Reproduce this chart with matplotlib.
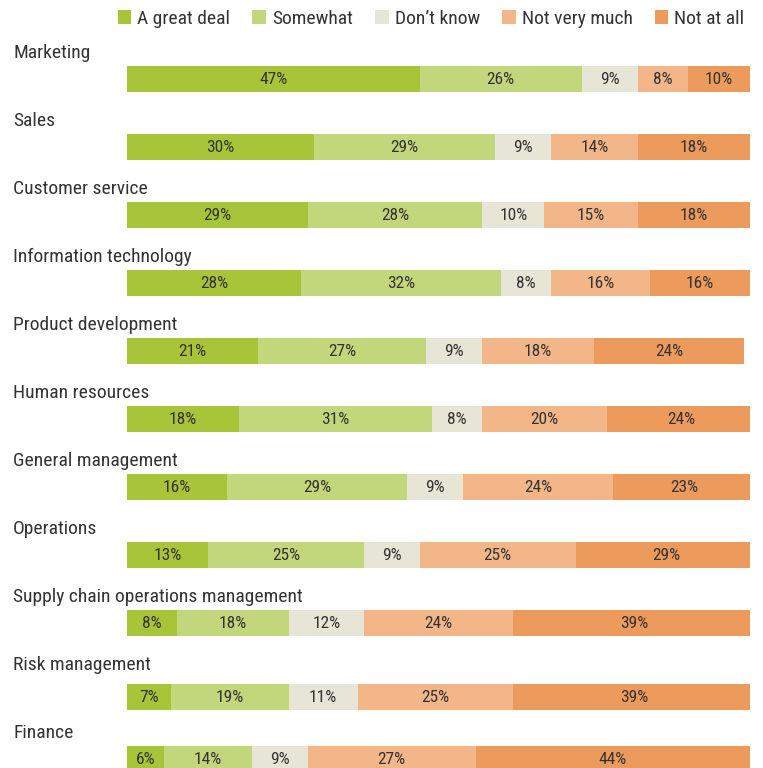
import matplotlib.pyplot as plt
from matplotlib.patches import Patch
from matplotlib.transforms import blended_transform_factory

plt.rcParams['font.family'] = ['Roboto Condensed', 'Archivo Narrow', 'PT Sans Narrow',
                               'Liberation Sans', 'DejaVu Sans']

# Survey responses per business function (percent of respondents)
functions = ['Marketing', 'Sales', 'Customer service', 'Information technology',
             'Product development', 'Human resources', 'General management',
             'Operations', 'Supply chain operations management', 'Risk management',
             'Finance']
responses = ['A great deal', 'Somewhat', 'Don\u2019t know', 'Not very much', 'Not at all']

great_deal = [47, 30, 29, 28, 21, 18, 16, 13, 8, 7, 6]
somewhat = [26, 29, 28, 32, 27, 31, 29, 25, 18, 19, 14]
dont_know = [9, 9, 10, 8, 9, 8, 9, 9, 12, 11, 9]
not_very_much = [8, 14, 15, 16, 18, 20, 24, 25, 24, 25, 27]
not_at_all = [10, 18, 18, 16, 24, 24, 23, 29, 39, 39, 44]

colors = ['#a8c53a', '#c2d67b', '#e7e5d6', '#f2b688', '#ec9b5d']
text_color = '#333333'

W, H = 763, 768
fig = plt.figure(figsize=(W / 100, H / 100), dpi=100)

# bars run from x=127px to x=750px; one row every 68px, first bar centred at 79px
row_px, first_px = 68, 79
ax = fig.add_axes([127 / W, 0, (750 - 127) / W, 1])
ax.set_xlim(0, 100)
ax.set_ylim((H - first_px) / row_px, -first_px / row_px)
ax.axis('off')

rows = list(range(len(functions)))
# the risk management bar sits a little lower under its label
bar_rows = [r + (6 / row_px if r == 9 else 0) for r in rows]

series = [great_deal, somewhat, dont_know, not_very_much, not_at_all]
left = [0] * len(functions)
for name, vals, col in zip(responses, series, colors):
    ax.barh(bar_rows, vals, left=left, height=26 / row_px, color=col, label=name)
    for r, v, l in zip(bar_rows, vals, left):
        ax.text(l + v / 2, r, f'{v}%', ha='center', va='center',
                fontsize=12.5, color=text_color)
    left = [l + v for l, v in zip(left, vals)]

# function names sit above each bar, flush with the figure's left margin
trans = blended_transform_factory(fig.transFigure, ax.transData)
for r, name in zip(rows, functions):
    ax.text(13 / W, r - 26 / row_px, name, transform=trans, ha='left', va='center',
            fontsize=14, color=text_color)

handles = [Patch(facecolor=c, edgecolor='none') for c in colors]
fig.legend(handles, responses, loc='upper right', bbox_to_anchor=(758 / W, 1 + 4 / H),
           ncol=5, frameon=False, fontsize=14, handlelength=0.7, handleheight=0.7,
           handletextpad=0.3, columnspacing=1.15, labelcolor=text_color,
           borderaxespad=0.3)

fig.savefig('out.png', dpi=100)
